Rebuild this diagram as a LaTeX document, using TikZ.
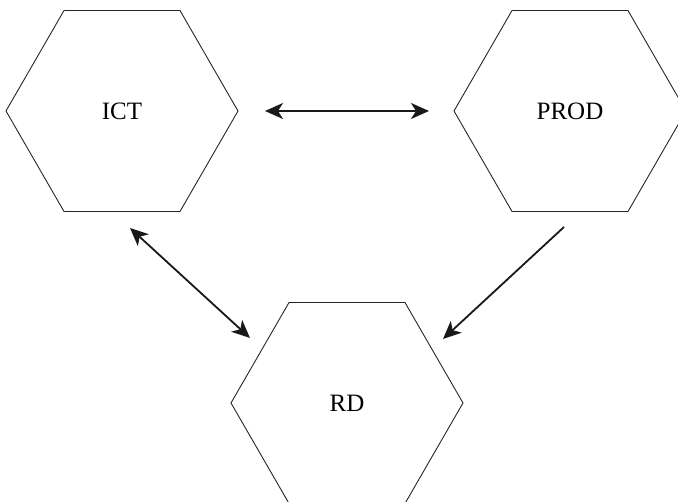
\documentclass[tikz,border=0pt]{standalone}
\usepackage{fontspec}
\setmainfont{Liberation Serif}
\usetikzlibrary{shapes.geometric,arrows.meta,calc}
\begin{document}
\begin{tikzpicture}[x=1pt,y=-1pt,
  hexbox/.style={regular polygon, regular polygon sides=6, minimum size=232pt,
    inner sep=0pt, outer sep=0pt, draw=black!85, line width=0.9pt,
    font=\fontsize{25}{30}\selectfont},
  link/.style={line width=1.8pt, draw=black!90,
    {Stealth[length=18pt,width=16pt,inset=5pt]}-{Stealth[length=18pt,width=16pt,inset=5pt]}},
  oneway/.style={line width=1.8pt, draw=black!90,
    -{Stealth[length=18pt,width=16pt,inset=5pt]}}]
\clip (0,0) rectangle (678,502);
\useasboundingbox (0,0) rectangle (678,502);

\node[hexbox] (ict)  at (122,111) {ICT};
\node[hexbox] (prod) at (570,111) {PROD};
\node[hexbox] (rd)   at (347,403) {RD};

% arrow end points, set off from the hexagons
\coordinate (ictR)  at ($(ict.center)+(143,0)$);
\coordinate (prodL) at ($(prod.center)+(-141,0)$);
\coordinate (ictB)  at ($(ict.center)+(8,117)$);
\coordinate (rdUL)  at ($(rd.center)+(-97,-65)$);
\coordinate (prodB) at ($(prod.center)+(-6,116)$);
\coordinate (rdUR)  at ($(rd.center)+(96,-64)$);

\draw[link] (ictR) -- (prodL);
\draw[link] (ictB) -- (rdUL);
\draw[oneway] (prodB) -- (rdUR);
\end{tikzpicture}
\end{document}
